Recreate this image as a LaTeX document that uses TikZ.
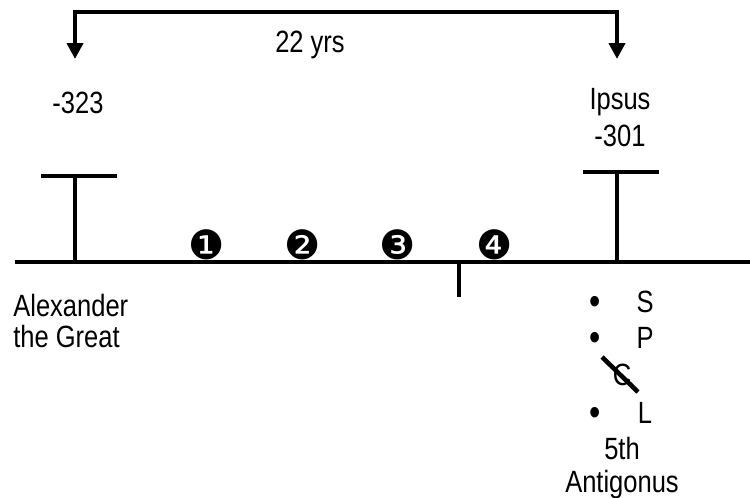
\documentclass[tikz,border=0pt]{standalone}
\usepackage{fontspec}
\setmainfont[FakeStretch=0.83]{Liberation Sans}
\newfontfamily\dingfont{DejaVu Sans}
\usetikzlibrary{arrows.meta,positioning}

\begin{document}
\begin{tikzpicture}[
    x=0.02cm, y=-0.02cm,
    lbl/.style={inner sep=0pt, font=\fontsize{17.5}{20}\selectfont},
    num/.style={inner sep=0pt, font=\dingfont\fontsize{23}{23}\selectfont},
    dot/.style={inner sep=0pt, font=\fontsize{22}{22}\selectfont},
    bar/.style={line width=2.6pt},
    line/.style={draw, line width=2.6pt, line join=miter, {Triangle[length=0.32cm,width=0.32cm]}-{Triangle[length=0.32cm,width=0.32cm]}}
  ]
    \useasboundingbox (0,0) rectangle (750,497);

    % time line
    \coordinate (tlstart) at (15,262);
    \coordinate (tlend) at (750,262);
    \draw[bar] (tlstart) -- (tlend);

    % death of Alexander
    \coordinate (alexfoot) at (75,264);
    \coordinate (alextop) at (75,176);
    \draw[bar] (alexfoot) -- (alextop);
    \draw[bar] ([shift={(-34,0)}]alextop) -- ([shift={(42,0)}]alextop);

    % battle of Ipsus
    \coordinate (ipsusfoot) at (617,262);
    \coordinate (ipsustop) at (617,172);
    \draw[bar] (ipsusfoot) -- (ipsustop);
    \draw[bar] ([shift={(-34,0)}]ipsustop) -- ([shift={(42,0)}]ipsustop);

    % small mark below the line
    \coordinate (markfoot) at (459,297);
    \draw[bar] (459,262) -- (markfoot);

    % span bracket
    \coordinate (tipleft) at (75,59);
    \coordinate (tipright) at (617,59);
    \coordinate (topright) at (617,12);
    \path [line] (tipleft) |- (topright) -- (tipright);
    \node [lbl] (span) at (310,45) {22 yrs};

    \node [lbl] (startyear) at (78,103) {-323};
    \node [lbl, align=center, font=\fontsize{17.5}{21}\selectfont] (ipsus) at (620,118) {Ipsus\\-301};
    \node [lbl, align=left, anchor=west, font=\fontsize{17.5}{18.2}\selectfont] (alexander) at (13,321) {Alexander\\the Great};

    % the four steps
    \node [num] (stepone) at (207,245) {❶};
    \node [num] (steptwo) at (303,245) {❷};
    \node [num] (stepthree) at (398,245) {❸};
    \node [num] (stepfour) at (495,245) {❹};

    % successors
    \node [lbl] (ltrS) at (645,302) {S};
    \node [lbl] (ltrP) at (645,338) {P};
    \node [lbl] (ltrC) at (622,375) {C};
    \node [lbl] (ltrL) at (645,413) {L};
    \node [dot] (dotS) at (595,305) {•};
    \node [dot] (dotP) at (595,341) {•};
    \node [dot] (dotL) at (595,416) {•};
    \draw [bar] ([shift={(-20,-18)}]ltrC.center) -- ([shift={(16,17)}]ltrC.center);

    \node [lbl, align=center, font=\fontsize{17.5}{18.8}\selectfont] (antigonus) at (622,468) {5th\\Antigonus};
\end{tikzpicture}
\end{document}
